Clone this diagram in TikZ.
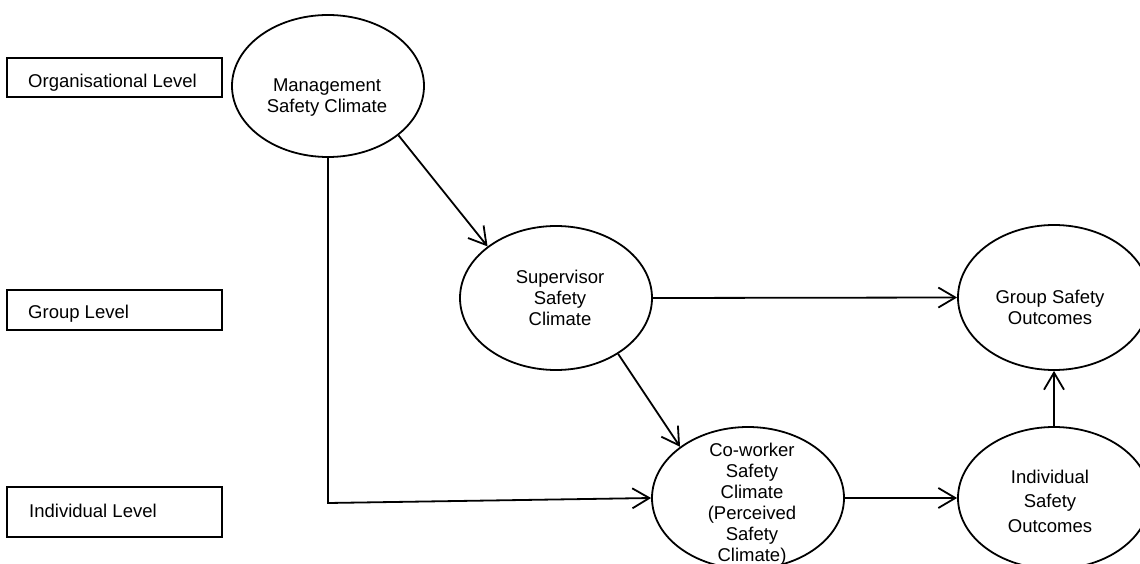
\documentclass[tikz,border=0pt]{standalone}
\usepackage{fontspec}
\setmainfont{Liberation Sans}
\usetikzlibrary{shapes.geometric,arrows.meta}

\tikzset{
  climate/.style={draw, ellipse, line width=1.8pt, inner sep=0pt,
                  minimum width=192pt, minimum height=#1},
  climate/.default=142pt,
  label/.style={align=center, inner sep=0pt, font=\fontsize{18.5pt}{20.7pt}\selectfont},
  levelbox/.style={draw, rectangle, line width=1.8pt, inner sep=0pt, minimum width=215pt},
  leveltext/.style={anchor=base west, inner sep=0pt, font=\fontsize{18.5pt}{20.7pt}\selectfont},
  link/.style={line width=1.8pt, -{Straight Barb[length=17pt, width=20pt, line width=1.8pt]}}
}

\begin{document}
\begin{tikzpicture}[x=1pt, y=-1pt]
  \useasboundingbox (0,0) rectangle (1140,564);
  \clip (0,0) rectangle (1140,564);

  % level boxes on the left
  \node[levelbox, minimum height=39pt] (orgbox) at (114.5,77.5) {};
  \node[levelbox, minimum height=40pt] (grpbox) at (114.5,310) {};
  \node[levelbox, minimum height=50pt] (indbox) at (114.5,512) {};
  \node[leveltext] (orgtext) at (28,88) {Organisational Level};
  \node[leveltext] (grptext) at (28,318) {Group Level};
  \node[leveltext] (indtext) at (29,517) {Individual Level};

  % climate and outcome ellipses
  \node[climate=142pt] (mgmt) at (328,86) {};
  \node[climate=144pt] (sup)  at (556,298) {};
  \node[climate=142pt] (cow)  at (748,498) {};
  \node[climate=145pt] (gso)  at (1054,297.5) {};
  \node[climate=142pt] (iso)  at (1054,498) {};

  % their labels
  \node[label] (mgmtlabel) at (327,97.5) {Management\\Safety Climate};
  \node[label] (suplabel)  at (560,298) {Supervisor\\Safety\\Climate};
  \node[label, font=\fontsize{18.5pt}{21pt}\selectfont] (cowlabel) at (752,504)
       {Co-worker\\Safety\\Climate\\(Perceived\\Safety\\Climate)};
  \node[label] (gsolabel)  at (1050,307.5) {Group Safety\\Outcomes};
  \node[label, font=\fontsize{18.5pt}{24.5pt}\selectfont] (isolabel) at (1050,501)
       {Individual\\Safety\\Outcomes};

  % paths between them
  \coordinate (bend) at (328,503);
  \draw[link] (mgmt.-35) -- (sup.143.5);
  \draw[link] (mgmt.south) -- (bend) -- (cow.west);
  \draw[link] (sup.east) -- (gso.west);
  \draw[link] (sup.-42.6) -- (cow.143.5);
  \draw[link] (cow.east) -- (iso.west);
  \draw[link] (iso.north) -- (gso.south);
\end{tikzpicture}
\end{document}
